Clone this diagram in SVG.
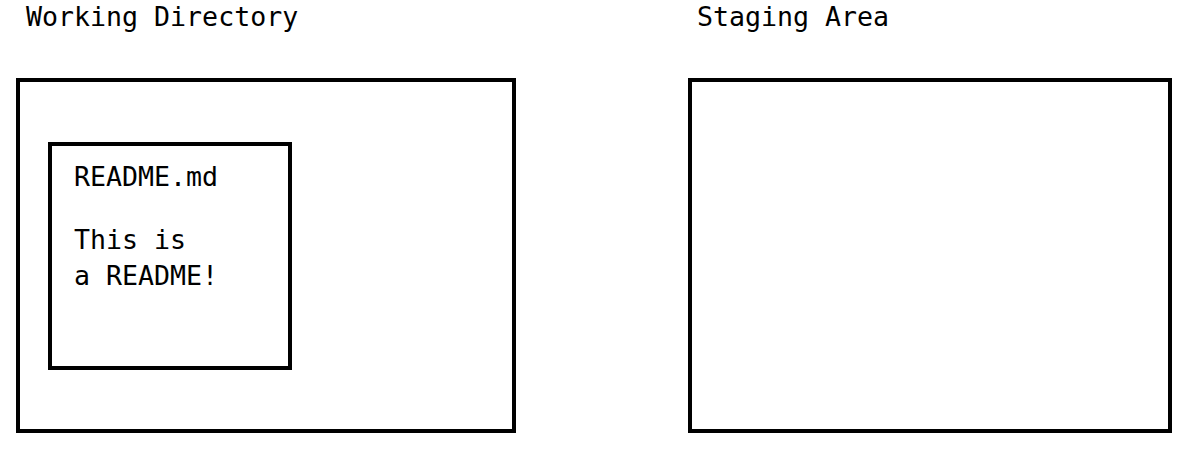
<svg xmlns="http://www.w3.org/2000/svg" width="1196" height="452" viewBox="0 0 1196 452">
<style>
.box{fill:none;stroke:#000;stroke-width:4}
.t{font-family:"DejaVu Sans Mono","Liberation Mono",monospace;font-size:26.6px;fill:#000}
</style>
<rect width="1196" height="452" fill="#fff"/>
<g id="working-directory">
<text class="t" x="26" y="26">Working Directory</text>
<rect class="box" x="18" y="80" width="496" height="351"/>
</g>
<g id="staging-area">
<text class="t" x="697" y="26">Staging Area</text>
<rect class="box" x="690" y="80" width="480" height="351"/>
</g>
<g id="readme">
<rect class="box" x="50" y="144" width="240" height="224"/>
<text class="t" x="74" y="186">README.md</text>
<text class="t" x="74" y="249">This is</text>
<text class="t" x="74" y="285">a README!</text>
</g>
<g id="connectors"/>
</svg>
